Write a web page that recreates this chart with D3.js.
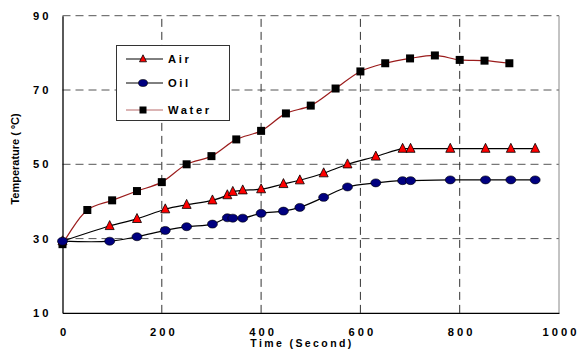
<!DOCTYPE html>
<html>
<head>
<meta charset="utf-8">
<script src="https://cdn.jsdelivr.net/npm/d3@7"></script>
<style>
  html, body { margin: 0; padding: 0; background: #fff; }
  svg { display: block; font-family: Arial, "Liberation Sans", sans-serif; }
</style>
</head>
<body>
<svg id="chart"></svg>
<script>
// time (s) for air and oil readings
const oilAirTimes = [0, 95, 150, 207, 250, 302, 332, 343, 363, 400, 445, 478, 526, 574, 631, 685, 701, 781, 852, 903, 952];
const airTemps = [29.3, 33.4, 35.3, 37.9, 39.1, 40.3, 41.7, 42.6, 43.0, 43.3, 44.7, 45.7, 47.6, 50.0, 52.1, 54.2, 54.2, 54.2, 54.2, 54.2, 54.2];
const oilTemps = [29.3, 29.3, 30.5, 32.2, 33.2, 33.9, 35.6, 35.5, 35.5, 36.8, 37.4, 38.4, 41.1, 43.9, 45.0, 45.6, 45.6, 45.8, 45.8, 45.8, 45.8];
// water readings
const waterTimes = [0, 50, 100, 150, 200, 250, 300, 350, 400, 450, 500, 550, 600, 650, 700, 750, 800, 850, 900];
const waterTemps = [28.5, 37.7, 40.3, 42.8, 45.2, 50.0, 52.2, 56.7, 59.0, 63.7, 65.8, 70.4, 75.0, 77.2, 78.5, 79.3, 78.1, 77.9, 77.2];

const xTicks = [0, 200, 400, 600, 800, 1000];
const yTicks = [10, 30, 50, 70, 90];
const seriesNames = ['Air', 'Oil', 'Water'];

const config = {
  width: 578,
  height: 352,
  marginTop: 16,
  marginRight: 19,
  marginBottom: 40,
  marginLeft: 62,
  waterColor: '#9b1c1c',
  gridColor: '#555',
  font: 'Arial, "Liberation Sans", sans-serif',
};

const { width, height, marginTop, marginRight, marginBottom, marginLeft } = config;
const svg = d3.select('#chart').attr('width', width).attr('height', height).attr('viewBox', [0, 0, width, height]);

const x = d3.scaleLinear([0, 1000], [marginLeft + 0.5, width - marginRight]);
const y = d3.scaleLinear([10, 90], [height - marginBottom + 0.9, marginTop - 0.3]);

// grid
const grid = svg.append('g');
grid.selectAll('line.h')
  .data(yTicks.filter((t) => t > 10))
  .join('line')
  .attr('x1', x(0)).attr('x2', x(1000))
  .attr('y1', (d) => y(d)).attr('y2', (d) => y(d))
  .attr('stroke', config.gridColor)
  .attr('stroke-width', 1)
  .attr('stroke-dasharray', '8,5');
grid.selectAll('line.v')
  .data(xTicks.filter((t) => t > 0 && t < 1000))
  .join('line')
  .attr('x1', (d) => x(d)).attr('x2', (d) => x(d))
  .attr('y1', y(10)).attr('y2', y(90))
  .attr('stroke', '#333')
  .attr('stroke-width', 1)
  .attr('stroke-dasharray', '8,5');
// right border
grid.append('line')
  .attr('x1', x(1000)).attr('x2', x(1000))
  .attr('y1', y(10)).attr('y2', y(90))
  .attr('stroke', '#888');

// axes
const xAxis = d3.axisBottom(x).tickValues(xTicks).tickSize(0).tickPadding(15).tickFormat(d3.format('d'));
svg.append('g')
  .attr('transform', `translate(0,${y(10)})`)
  .call(xAxis)
  .call((g) => g.select('.domain').attr('stroke', '#000').attr('stroke-width', 1.3))
  .call((g) => g.selectAll('.tick text')
    .attr('font-size', 11.2).attr('font-weight', 'bold').attr('letter-spacing', 3).attr('dx', 1.5)
    .attr('font-family', config.font));

const yAxis = d3.axisLeft(y).tickValues(yTicks).tickSize(0).tickPadding(11);
svg.append('g')
  .attr('transform', `translate(${x(0)},0)`)
  .call(yAxis)
  .call((g) => g.select('.domain').attr('stroke', '#000').attr('stroke-width', 1.3))
  .call((g) => g.selectAll('.tick text')
    .attr('font-size', 11.2).attr('font-weight', 'bold').attr('letter-spacing', 3)
    .attr('font-family', config.font));

// axis titles
svg.append('text')
  .attr('x', 302).attr('y', 347)
  .attr('text-anchor', 'middle')
  .attr('font-size', 10.5).attr('font-weight', 'bold').attr('letter-spacing', 2.4)
  .text('Time (Second)');
svg.append('text')
  .attr('transform', `translate(19,159) rotate(-90)`)
  .attr('text-anchor', 'middle')
  .attr('font-size', 11).attr('font-weight', 'bold')
  .text('Temperature ( ºC)');

// lines
const lineOf = (xs, ys) => d3.line()
  .curve(d3.curveCatmullRom.alpha(0.5))
  .x((i) => x(xs[i]))
  .y((i) => y(ys[i]))(d3.range(xs.length));

const plot = svg.append('g');
plot.append('path').attr('d', lineOf(waterTimes, waterTemps))
  .attr('fill', 'none').attr('stroke', config.waterColor).attr('stroke-width', 1.2);
plot.append('path').attr('d', lineOf(oilAirTimes, airTemps))
  .attr('fill', 'none').attr('stroke', '#000').attr('stroke-width', 1.2);
plot.append('path').attr('d', lineOf(oilAirTimes, oilTemps))
  .attr('fill', 'none').attr('stroke', '#000').attr('stroke-width', 1.2);

// markers
const drawSquare = (g, cx, cy, s) => g.append('rect')
  .attr('x', cx - s / 2).attr('y', cy - s / 2).attr('width', s).attr('height', s)
  .attr('fill', '#000');
const drawTriangle = (g, cx, cy, s) => g.append('path')
  .attr('d', `M${cx},${cy - s * 0.6}L${cx + s / 2},${cy + s * 0.4}L${cx - s / 2},${cy + s * 0.4}Z`)
  .attr('fill', '#ff0000').attr('stroke', '#000').attr('stroke-width', 0.8);
const drawEllipse = (g, cx, cy, rx, ry) => g.append('ellipse')
  .attr('cx', cx).attr('cy', cy).attr('rx', rx).attr('ry', ry)
  .attr('fill', '#000080').attr('stroke', '#000').attr('stroke-width', 0.6);

const marks = svg.append('g');
waterTimes.forEach((t, i) => drawSquare(marks, x(t), y(waterTemps[i]), 8));
oilAirTimes.forEach((t, i) => drawTriangle(marks, x(t), y(airTemps[i]), 9));
oilAirTimes.forEach((t, i) => drawEllipse(marks, x(t), y(oilTemps[i]), 5, 4));

// legend
const legend = svg.append('g');
legend.append('rect')
  .attr('x', 116.5).attr('y', 45.5).attr('width', 113).attr('height', 75)
  .attr('fill', '#fff').attr('stroke', '#333').attr('stroke-width', 1);
const legendY = [59, 83, 110];
seriesNames.forEach((name, i) => {
  const ly = legendY[i];
  legend.append('line')
    .attr('x1', 126).attr('x2', 163).attr('y1', ly).attr('y2', ly)
    .attr('stroke', name === 'Water' ? '#b86a6a' : '#000').attr('stroke-width', 1);
  if (name === 'Air') drawTriangle(legend, 143, ly, 7);
  if (name === 'Oil') drawEllipse(legend, 143, ly, 4.5, 3.5);
  if (name === 'Water') drawSquare(legend, 143, ly, 7);
  legend.append('text')
    .attr('x', 168).attr('y', ly + 4)
    .attr('font-size', 11.2).attr('font-weight', 'bold').attr('letter-spacing', 2.6)
    .text(name);
});
</script>
</body>
</html>
